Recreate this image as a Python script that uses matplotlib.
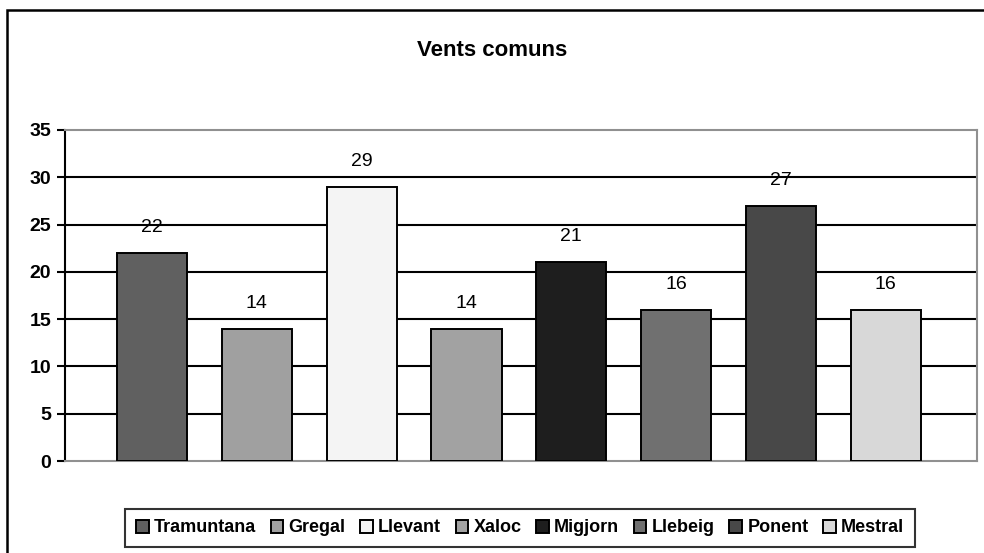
import matplotlib.pyplot as plt
from matplotlib.patches import Rectangle
import numpy as np

# data
vents = ['Tramuntana', 'Gregal', 'Llevant', 'Xaloc', 'Migjorn', 'Llebeig', 'Ponent', 'Mestral']
valors = [22, 14, 29, 14, 21, 16, 27, 16]
colors = ['#606060', '#a0a0a0', '#f4f4f4', '#a2a2a2', '#1e1e1e', '#707070', '#484848', '#d8d8d8']
yticks = [0, 5, 10, 15, 20, 25, 30, 35]

plt.rcParams['font.family'] = ['Liberation Sans Narrow', 'Liberation Sans', 'DejaVu Sans']

fig = plt.figure(figsize=(9.84, 5.53), dpi=100)
W, H = 984, 553

# outer frame (chart area border)
fig.patches.append(Rectangle((7 / W, -0.05), 1.2, 1 - 10 / H + 0.05, transform=fig.transFigure,
                             fill=False, edgecolor='black', linewidth=1.8))

# plot area: x 65..977, y 130..461 px
ax = fig.add_axes([65 / W, 1 - 461 / H, (977 - 65) / W, (461 - 130) / H])

x = np.arange(len(vents))
bars = ax.bar(x, valors, width=0.67, color=colors, edgecolor='black', linewidth=1.4, zorder=3)

ax.set_ylim(0, 35)
ax.set_xlim(-0.83, 7.87)
ax.set_yticks(yticks)
ax.set_yticklabels([str(t) for t in yticks], fontsize=14, fontweight='bold')
ax.set_xticks([])
for t in yticks[1:-1]:
    ax.axhline(t, color='black', linewidth=1.5, zorder=1)

for side in ['top', 'right', 'bottom']:
    ax.spines[side].set_color('#909090')
    ax.spines[side].set_linewidth(1.5)
ax.spines['left'].set_color('black')
ax.spines['left'].set_linewidth(1.5)
ax.tick_params(axis='y', length=6, width=1.5, pad=4)

# labels above bars
for b, v in zip(bars, valors):
    ax.text(b.get_x() + b.get_width() / 2, v + 2.7, str(v), ha='center', va='center',
            fontsize=14, color='black', zorder=4)

fig.text(0.5, 1 - 50 / H, 'Vents comuns', ha='center', va='center', fontsize=16, fontweight='bold')

leg = fig.legend(bars, vents, loc='center', bbox_to_anchor=(520 / W, 1 - 528 / H), ncol=8,
                 frameon=True, fancybox=False, edgecolor='black', handlelength=0.7, handleheight=0.7,
                 handletextpad=0.3, columnspacing=0.8, borderpad=0.6,
                 prop={'weight': 'bold', 'size': 13})
leg.get_frame().set_linewidth(1.5)

plt.savefig('out.png', dpi=100)
